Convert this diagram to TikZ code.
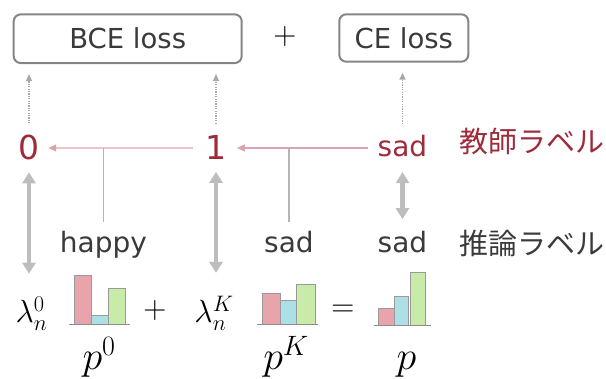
\documentclass[tikz,border=0pt]{standalone}
\usepackage{fix-cm}
\usepackage{fontspec}
\setmainfont{DejaVu Sans}
\newfontfamily\cjk{Noto Sans CJK JP}
\usetikzlibrary{arrows.meta}
\definecolor{tred}{HTML}{9E2A3A}
\definecolor{txt}{HTML}{3A3A3A}
\definecolor{boxc}{HTML}{858585}
\definecolor{pinkl}{HTML}{D8A7AD}
\definecolor{grayd}{HTML}{A8A8A8}
\definecolor{grayl}{HTML}{BDBDBD}
\definecolor{vlinec}{HTML}{B5B5B5}
\definecolor{barp}{HTML}{E8A3AB}
\definecolor{barc}{HTML}{ACE0E6}
\definecolor{barg}{HTML}{C8EBA9}
\definecolor{barline}{HTML}{9A9A9A}
\definecolor{axisc}{HTML}{8C8C8C}
\begin{document}
\begin{tikzpicture}[x=1pt,y=-1pt,
 lossbox/.style={draw=boxc, line width=2pt, rounded corners=7pt, inner sep=0pt, text=txt, font=\fontsize{27.5}{30}\selectfont},
 lbl/.style={inner sep=0pt, anchor=base, text=txt, font=\fontsize{28}{30}\selectfont},
 teach/.style={inner sep=0pt, anchor=base, text=tred, font=\fontsize{28}{30}\selectfont},
 digit/.style={inner sep=0pt, anchor=base, text=tred, font=\fontsize{33}{36}\selectfont},
 jp/.style={inner sep=0pt, font=\cjk\fontsize{29}{32}\selectfont},
 mathl/.style={inner sep=0pt, anchor=base, font=\fontsize{32}{36}\selectfont},
 opm/.style={inner sep=0pt, font=\fontsize{32}{36}\selectfont},
 pl/.style={inner sep=0pt, anchor=base, font=\fontsize{40}{44}\selectfont},
 dotarrow/.style={draw=grayd, line width=1.3pt, dash pattern=on 1.2pt off 1.2pt, -{Triangle[width=6pt,length=7pt]}},
 pinkarrow/.style={draw=pinkl, line width=1.4pt, -{Triangle[width=7pt,length=8pt]}},
 vl/.style={draw=vlinec, line width=1.3pt},
 dbl/.style={draw=grayl, line width=4.5pt, {Triangle[width=13pt,length=11pt]}-{Triangle[width=13pt,length=11pt]}},
 bar/.style={draw=barline, line width=0.9pt},
 axis/.style={draw=axisc, line width=1.5pt}
]
\useasboundingbox (0,0) rectangle (606,379);

% loss boxes
\node[lossbox, minimum width=228pt, minimum height=48.7pt] (bce) at (127.7,38.7) {BCE loss};
\node[opm] (topplus) at (285,36.7) {$+$};
\node[lossbox, minimum width=129pt, minimum height=47.4pt] (ce) at (403.8,38) {CE loss};

% teacher labels
\node[digit] (zero) at (29,160) {0};
\node[digit] (one) at (216,160) {1};
\node[teach] (sadT) at (402.5,156.5) {sad};
\node[jp, text=tred] (teachlbl) at (531.5,142) {教師ラベル};

% inferred labels
\node[lbl] (happy) at (103.5,253) {happy};
\node[lbl] (sadM) at (289,253) {sad};
\node[lbl] (sadB) at (402.5,253) {sad};
\node[jp, text=txt] (inflbl) at (531.5,243) {推論ラベル};

% math row
\node[mathl] (lam0) at (31.5,323) {$\lambda_n^0$};
\node[opm] (plusm) at (155,311) {$+$};
\node[mathl] (lamK) at (214,323) {$\lambda_n^K$};
\node[opm] (eqm) at (343,310.7) {$=$};
\node[pl] (p0) at (99,370) {$p^0$};
\node[pl] (pK) at (286,370) {$p^K$};
\node[pl] (pp) at (406.5,370) {$p$};

% dotted arrows to losses
\draw[dotarrow, shorten <=12pt, shorten >=10pt] (zero.north) -- (zero.north |- bce.south);
\draw[dotarrow, shorten <=12pt, shorten >=10pt] (one.north) -- (one.north |- bce.south);
\draw[dotarrow, shorten <=11pt, shorten >=10pt] (sadT.north) -- (sadT.north |- ce.south);

% pink arrows
\draw[pinkarrow, shorten <=12.5pt, shorten >=8.5pt] (one.west) -- (zero.east);
\draw[pinkarrow, shorten <=9.7pt, shorten >=10.2pt] (one.east -| sadT.west) -- (one.east);

% thin vertical lines
\draw[vl, shorten >=9.7pt] (happy.north |- zero.east) -- (happy.north);
\draw[vl, shorten >=9.7pt] (sadM.north |- one.east) -- (sadM.north);

% thick double arrows
\draw[dbl, shorten <=11.7pt, shorten >=23pt] (zero.south) -- (zero.south |- lam0.north);
\draw[dbl, shorten <=11.7pt, shorten >=23pt] (one.south) -- (one.south |- lamK.north);
\draw[dbl, shorten <=15pt, shorten >=12.4pt] (sadT.south) -- (sadB.north);

% chart p^0
\filldraw[bar, fill=barp] (74.3,275) rectangle (91.7,324.3);
\filldraw[bar, fill=barc] (91.7,315.3) rectangle (108.3,324.3);
\filldraw[bar, fill=barg] (108.3,288.3) rectangle (125.3,324.3);
\draw[axis] (69,324.3) -- (130,324.3);

% chart p^K
\filldraw[bar, fill=barp] (262.3,293.3) rectangle (280.3,324.3);
\filldraw[bar, fill=barc] (280.3,300.3) rectangle (296.3,324.3);
\filldraw[bar, fill=barg] (296.3,284) rectangle (315.3,324.3);
\draw[axis] (257,324.3) -- (318,324.3);

% chart p
\filldraw[bar, fill=barp] (378.3,308.3) rectangle (394,325.7);
\filldraw[bar, fill=barc] (394,296) rectangle (408.7,325.7);
\filldraw[bar, fill=barg] (410,272.7) rectangle (425.3,325.7);
\draw[axis] (374.3,325.7) -- (430.7,325.7);
\end{tikzpicture}
\end{document}
